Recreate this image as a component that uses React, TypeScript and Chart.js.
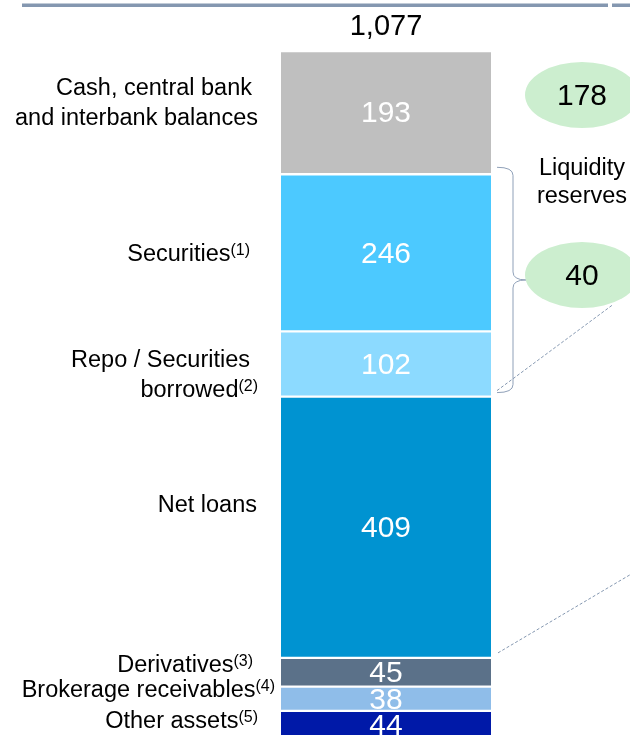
import React, { useEffect, useRef } from "react";
import { Chart, registerables } from "chart.js";

Chart.register(...registerables);

// ---- Data ----
const categories = ["Total assets"];
const segmentNames = [
  "Other assets",
  "Brokerage receivables",
  "Derivatives",
  "Net loans",
  "Repo / Securities borrowed",
  "Securities",
  "Cash, central bank and interbank balances",
];
const segmentValues = [44, 38, 45, 409, 102, 246, 193];
const segmentColors = ["#0019A8", "#8FBDE9", "#5B7189", "#0093D1", "#8CDAFF", "#4CC9FF", "#BFBFBF"];
const totalLabel = "1,077";
const totalValue = 1077;
const reserveValues = ["178", "40"];
const reserveTitle = ["Liquidity", "reserves"];

// label text lines per segment (same order as segmentValues), [main, superscript]
const segmentLabelLines: [string, string][][] = [
  [["Other assets", "(5)"]],
  [["Brokerage receivables", "(4)"]],
  [["Derivatives", "(3)"]],
  [["Net loans", ""]],
  [["Repo / Securities", ""], ["borrowed", "(2)"]],
  [["Securities", "(1)"]],
  [["Cash, central bank", ""], ["and interbank balances", ""]],
];

const FONT = "'Liberation Sans', Arial, sans-serif";

// layout per label line: [right offset from bar left, baseline offset from segment centre]
const labelLayout: [number, number][][] = [
  [[23, 3]],
  [[6, -1.5]],
  [[28, 0]],
  [[24, -15]],
  [[31, 3], [23, 33]],
  [[31, 8]],
  [[29, -18], [23, 12]],
];

const annotationPlugin = {
  id: "annotations",
  afterDraw(chart: any) {
    const ctx: CanvasRenderingContext2D = chart.ctx;
    const metas = segmentValues.map((_, i) => chart.getDatasetMeta(i).data[0]);
    const yScale = chart.scales.y;
    const barLeft = metas[0].x - metas[0].width / 2;
    const barRight = metas[0].x + metas[0].width / 2;
    const barCx = metas[0].x;

    ctx.save();
    // top rule
    ctx.fillStyle = "#8497B0";
    ctx.fillRect(22, 3.5, 586, 3.5);
    ctx.fillRect(612, 3.5, 18, 3.5);

    // values inside bars
    ctx.fillStyle = "#FFFFFF";
    ctx.textAlign = "center";
    ctx.textBaseline = "middle";
    ctx.font = `30px ${FONT}`;
    metas.forEach((m: any, i: number) => {
      const cy = (m.y + m.base) / 2;
      ctx.fillText(String(segmentValues[i]), barCx, cy + 1.5);
    });

    // total
    ctx.fillStyle = "#000000";
    ctx.font = `29px ${FONT}`;
    ctx.fillText(totalLabel, barCx, yScale.getPixelForValue(totalValue) - 24);

    // left labels
    ctx.textBaseline = "alphabetic";
    ctx.textAlign = "left";
    metas.forEach((m: any, i: number) => {
      const cy = (m.y + m.base) / 2;
      segmentLabelLines[i].forEach(([main, sup], j) => {
        const [dx, dy] = labelLayout[i][j];
        const right = barLeft - dx;
        const base = cy + dy;
        ctx.font = `23.5px ${FONT}`;
        const wMain = ctx.measureText(main).width;
        ctx.font = `16px ${FONT}`;
        const wSup = sup ? ctx.measureText(sup).width : 0;
        const start = right - wMain - wSup;
        ctx.fillStyle = "#000000";
        ctx.font = `23.5px ${FONT}`;
        ctx.fillText(main, start, base);
        if (sup) {
          ctx.font = `16px ${FONT}`;
          ctx.fillText(sup, start + wMain, base - 6);
        }
      });
    });

    // right side: brace
    const secTop = metas[5].y;
    const repoBottom = metas[4].base;
    const bTop = secTop - 7;
    const bBot = repoBottom - 4;
    const bMid = (bTop + bBot) / 2;
    const x0 = barRight + 6;
    const x1 = barRight + 22;
    const xt = barRight + 35;
    ctx.strokeStyle = "#8FA0B8";
    ctx.lineWidth = 1;
    ctx.beginPath();
    ctx.moveTo(x0, bTop);
    ctx.quadraticCurveTo(x1, bTop, x1, bTop + 8);
    ctx.lineTo(x1, bMid - 8);
    ctx.quadraticCurveTo(x1, bMid, xt, bMid);
    ctx.quadraticCurveTo(x1, bMid, x1, bMid + 8);
    ctx.lineTo(x1, bBot - 8);
    ctx.quadraticCurveTo(x1, bBot, x0, bBot);
    ctx.stroke();

    // dashed lines
    ctx.setLineDash([3, 2]);
    ctx.strokeStyle = "#8497B0";
    ctx.beginPath();
    ctx.moveTo(barRight + 6, repoBottom - 6);
    ctx.lineTo(barRight + 122, repoBottom - 92);
    ctx.stroke();
    const loanBottom = metas[3].base;
    ctx.beginPath();
    ctx.moveTo(barRight + 7, loanBottom - 5);
    ctx.lineTo(barRight + 149, loanBottom - 89);
    ctx.stroke();
    ctx.setLineDash([]);

    // ellipses
    const ex = barRight + 91;
    const ellipseYs = [95, bMid - 5];
    ellipseYs.forEach((ey, k) => {
      ctx.fillStyle = "#CCEECF";
      ctx.beginPath();
      ctx.ellipse(ex, ey, 57, 33, 0, 0, Math.PI * 2);
      ctx.fill();
      ctx.fillStyle = "#000000";
      ctx.font = `30px ${FONT}`;
      ctx.textAlign = "center";
      ctx.textBaseline = "middle";
      ctx.fillText(reserveValues[k], ex, ey + 1.5);
    });

    // Liquidity reserves
    ctx.font = `23.5px ${FONT}`;
    ctx.textBaseline = "alphabetic";
    ctx.fillText(reserveTitle[0], ex, 175);
    ctx.fillText(reserveTitle[1], ex, 203);

    ctx.restore();
  },
};

export default function App() {
  const ref = useRef<HTMLCanvasElement | null>(null);
  useEffect(() => {
    if (!ref.current) return;
    const chart = new Chart(ref.current, {
      type: "bar",
      data: {
        labels: categories,
        datasets: segmentValues.map((v, i) => ({
          label: segmentNames[i],
          data: [v],
          backgroundColor: segmentColors[i],
          borderColor: "#FFFFFF",
          borderWidth: { top: 1.5, bottom: 1.5, left: 0, right: 0 },
          borderSkipped: false,
          barPercentage: 1,
          categoryPercentage: 1,
        })),
      },
      options: {
        responsive: false,
        animation: false,
        devicePixelRatio: 1,
        layout: { padding: { top: 51, bottom: 6, left: 281, right: 139 } },
        plugins: { legend: { display: false }, tooltip: { enabled: false }, title: { display: false } },
        scales: {
          x: { stacked: true, display: false },
          y: { stacked: true, display: false, min: 0, max: totalValue },
        },
      },
      plugins: [annotationPlugin],
    });
    return () => chart.destroy();
  }, []);
  return (
    <div style={{ position: "fixed", left: 0, top: 0, width: 630, height: 735, overflow: "hidden", background: "#FFFFFF" }}>
      <canvas ref={ref} width={630} height={745} style={{ width: 630, height: 745, display: "block" }} />
    </div>
  );
}
